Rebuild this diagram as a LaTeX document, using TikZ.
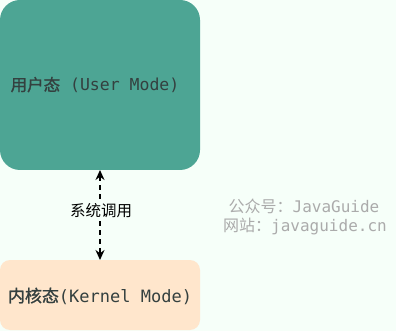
\documentclass[tikz,border=0pt]{standalone}
\usepackage{fontspec}
\setmonofont{DejaVu Sans Mono}
\newfontfamily\cjk{Noto Sans CJK SC}
\newfontfamily\cjkbold{Noto Sans CJK SC}[FakeBold=1.2]
\usetikzlibrary{arrows.meta}
\definecolor{bgc}{HTML}{F6FFF9}
\definecolor{userc}{HTML}{4DA594}
\definecolor{kernc}{HTML}{FFE6CC}
\definecolor{txtc}{HTML}{34403F}
\definecolor{wmc}{HTML}{ABABAB}
\tikzset{
  modebox/.style={inner sep=0pt, outer sep=0pt},
  wm/.style={text=wmc, font=\fontsize{16}{19}\selectfont, anchor=center, inner sep=0pt},
}
\begin{document}
\begin{tikzpicture}[x=1pt,y=-1pt]
\fill[bgc] (0,0) rectangle (396,331);
\useasboundingbox (0,0) rectangle (396,331);
\fill[userc, rounded corners=20pt] (0,0) rectangle (200,170);
\fill[kernc, rounded corners=10pt] (0,260) rectangle (200,330);
\node[modebox] (user) at (100,85) {};
\node[modebox] (kern) at (100,295) {};
\coordinate (utop) at (100,170);
\coordinate (kbot) at (100,260);
\node[text=txtc, font=\fontsize{16.5}{19}\selectfont, inner sep=0pt] (ulabel) at (95,85) {{\cjkbold 用户态}\texttt{ (User Mode)}};
\node[text=txtc, font=\fontsize{17}{20}\selectfont, inner sep=0pt] (klabel) at (100,296) {{\cjkbold 内核态}\texttt{(Kernel Mode)}};
\draw[black, line width=1.6pt, dash pattern=on 5pt off 4pt, {Stealth[length=10pt,width=9pt]}-{Stealth[length=10pt,width=9pt]}] (utop) -- (kbot);
\node[fill=bgc, inner sep=2pt, font=\cjk\fontsize{15.5}{18}\selectfont] (sys) at (101,211) {系统调用};
\node[wm] (wm1) at (304,206) {{\cjk 公众号：}\texttt{JavaGuide}};
\node[wm] (wm2) at (305,226) {{\cjk 网站：}\texttt{javaguide.cn}};
\end{tikzpicture}
\end{document}
